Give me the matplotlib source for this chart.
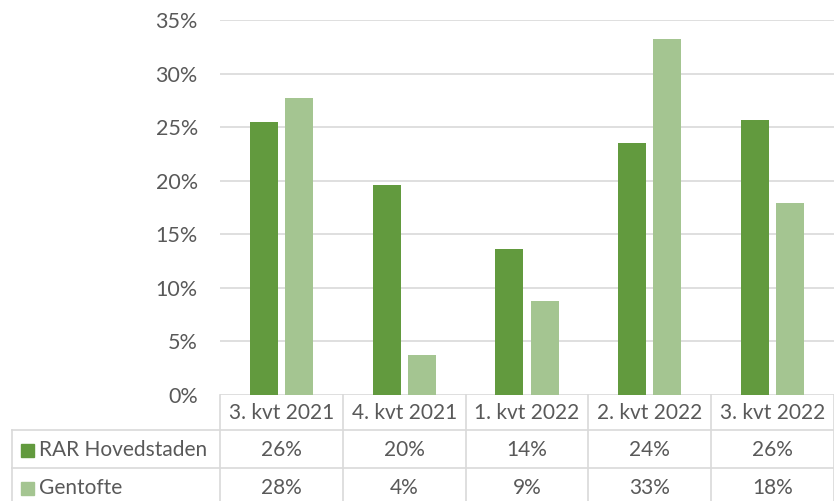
import matplotlib
matplotlib.use("Agg")
import matplotlib.pyplot as plt
from matplotlib.patches import Rectangle
from matplotlib.lines import Line2D

categories = ["3. kvt 2021", "4. kvt 2021", "1. kvt 2022", "2. kvt 2022", "3. kvt 2022"]
series_names = ["RAR Hovedstaden", "Gentofte"]
rar = [25.5, 19.6, 13.6, 23.5, 25.7]
gentofte = [27.7, 3.7, 8.8, 33.2, 17.9]
rar_labels = ["26%", "20%", "14%", "24%", "26%"]
gentofte_labels = ["28%", "4%", "9%", "33%", "18%"]
yticks = [0, 5, 10, 15, 20, 25, 30, 35]

DARK = "#629A3E"
LIGHT = "#A4C591"
TXT = "#595959"
GRID = "#D9D9D9"
FONT = "Lato"
FS = 15

W, H = 834, 501
fig = plt.figure(figsize=(W / 100, H / 100), dpi=100)

def fx(px):
    return px / W

def fy(py):
    return 1 - py / H

x0, x1 = 220, 834
ytop, ybot = 20, 395
ax = fig.add_axes([fx(x0), fy(ybot), fx(x1) - fx(x0), fy(ytop) - fy(ybot)])
ax.set_xlim(-0.5, len(categories) - 0.5)
ax.set_ylim(0, 35)

bw = 0.228
off = 0.143
xs = list(range(len(categories)))
ax.bar([x - off for x in xs], rar, width=bw, color=DARK, zorder=3)
ax.bar([x + off for x in xs], gentofte, width=bw, color=LIGHT, zorder=3)

ax.set_yticks(yticks)
ax.set_yticklabels([f"{v}%" for v in yticks], fontfamily=FONT, fontsize=15.5, color=TXT)
ax.tick_params(axis="y", length=0, pad=16)
ax.set_xticks([])
for s in ax.spines.values():
    s.set_visible(False)
ax.grid(axis="y", color=GRID, linewidth=1.2, zorder=0)

# Table drawn in figure pixel coordinates
def hline(y, xa, xb):
    fig.add_artist(Line2D([fx(xa), fx(xb)], [fy(y), fy(y)], color=GRID, linewidth=1.2))

def vline(x, ya, yb):
    fig.add_artist(Line2D([fx(x), fx(x)], [fy(ya), fy(yb)], color=GRID, linewidth=1.2))

row_top = 395
r1 = 430
r2 = 468
bottom = 501
label_left = 12
colw = (x1 - x0) / len(categories)

hline(r1, label_left, x1)
hline(r2, label_left, x1)
vline(label_left, r1, bottom)
for i in range(len(categories) + 1):
    vline(x0 + i * colw, row_top, bottom)

row_centers = [413, 450, 488]
for i, c in enumerate(categories):
    cx = x0 + (i + 0.5) * colw
    fig.text(fx(cx), fy(row_centers[0]), c, ha="center", va="center",
             fontfamily=FONT, fontsize=FS, color=TXT)
    fig.text(fx(cx), fy(row_centers[1]), rar_labels[i], ha="center", va="center",
             fontfamily=FONT, fontsize=FS, color=TXT)
    fig.text(fx(cx), fy(row_centers[2]), gentofte_labels[i], ha="center", va="center",
             fontfamily=FONT, fontsize=FS, color=TXT)

for name, color, cy in [(series_names[0], DARK, row_centers[1]), (series_names[1], LIGHT, row_centers[2])]:
    sq = 13
    fig.add_artist(Rectangle((fx(21), fy(cy + sq / 2)), fx(sq), sq / H, color=color))
    fig.text(fx(39), fy(cy), name, ha="left", va="center",
             fontfamily=FONT, fontsize=FS, color=TXT)

fig.savefig("out.png", dpi=100)
